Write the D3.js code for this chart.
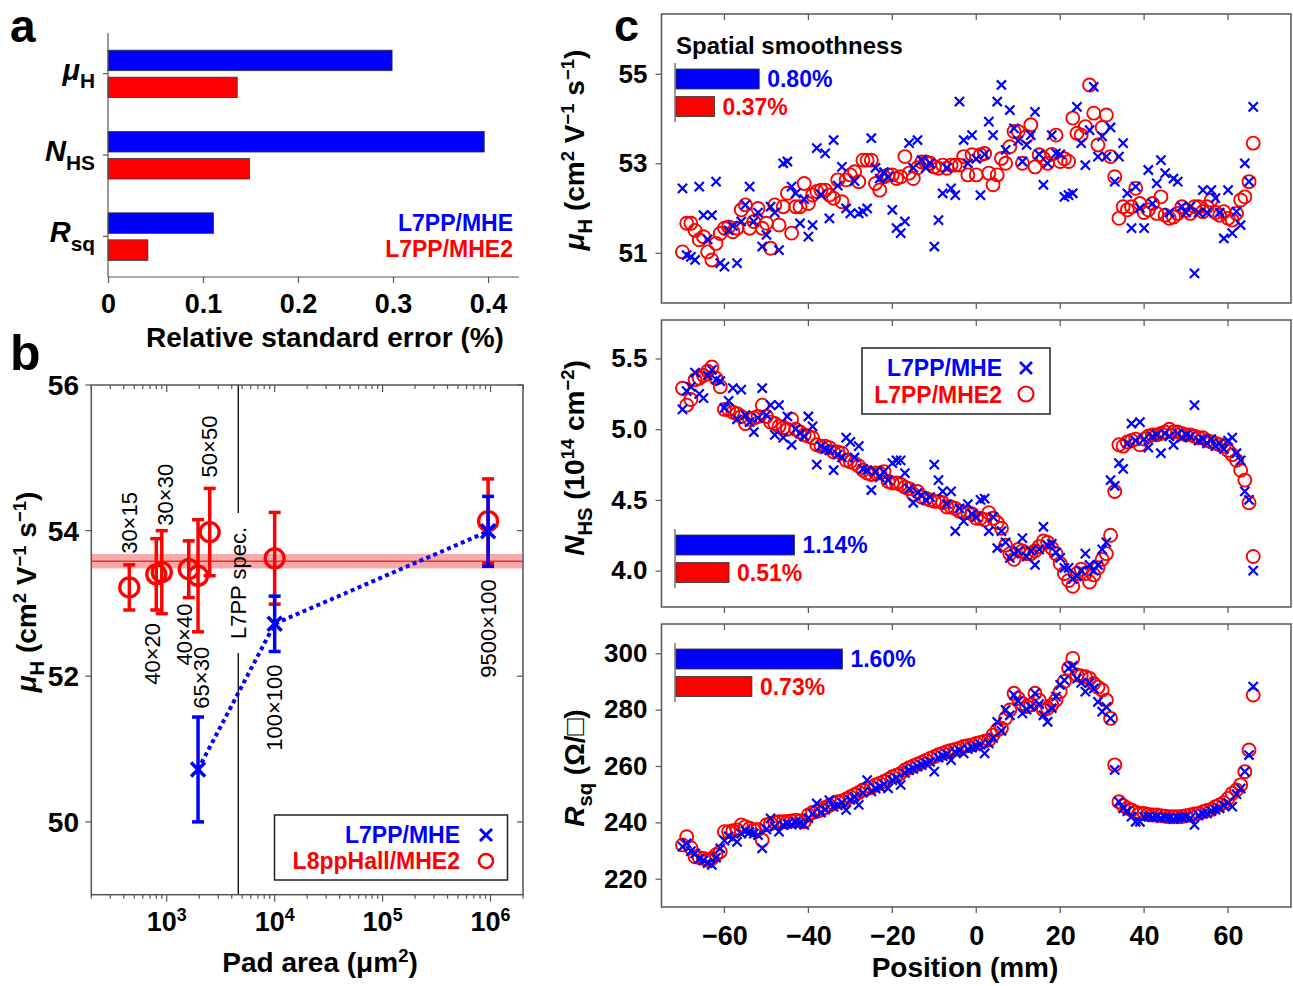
<!DOCTYPE html>
<html><head><meta charset="utf-8">
<script src="https://cdn.jsdelivr.net/npm/d3@7"></script>
<style>
body{margin:0;background:#fff}
svg{display:block}
</style>
</head><body>
<svg id="chart" width="1293" height="986"></svg>
<script>
// ================= DATA =================
const seriesNames = ["L7PP/MHE", "L7PP/MHE2"];

// panel a
const rseCategories = ["muH", "NHS", "Rsq"];
const rseMHE  = [0.299, 0.396, 0.111];
const rseMHE2 = [0.136, 0.149, 0.042];
const rseTicks = [0, 0.1, 0.2, 0.3, 0.4];

// panel b
const padSeriesNames = ["L7PP/MHE", "L8ppHall/MHE2"];
const padLabels    = ["30×15", "40×20", "30×30", "40×40", "65×30", "50×50", "100×100", "9500×100"];
const padAreaMHE2  = [450, 800, 900, 1600, 1950, 2500, 10000, 950000];
const muPadMHE2    = [53.22, 53.40, 53.43, 53.47, 53.38, 53.98, 53.62, 54.13];
const errPadMHE2   = [0.31, 0.49, 0.57, 0.39, 0.77, 0.60, 0.63, 0.58];
const padLabelSide = ["above", "below", "above", "below", "below", "above", "below", "below"];
const padAreaMHE   = [1950, 10000, 950000];
const muPadMHE     = [50.72, 52.72, 53.99];
const errPadMHE    = [0.72, 0.38, 0.48];
const specArea     = 4600;
const refBand      = [53.48, 53.58, 53.68];
const padXTicks    = [1e3, 1e4, 1e5, 1e6];
const padYTicks    = [50, 52, 54, 56];

// panel c
const positions = [
 -70,-69,-68,-67,-66,-65,-64,-63,-62,-61,
 -60,-59,-58,-57,-56,-55,-54,-53,-52,-51,
 -50,-49,-48,-47,-46,-45,-44,-43,-42,-41,
 -40,-39,-38,-37,-36,-35,-34,-33,-32,-31,
 -30,-29,-28,-27,-26,-25,-24,-23,-22,-21,
 -20,-19,-18,-17,-16,-15,-14,-13,-12,-11,
 -10,-9,-8,-7,-6,-5,-4,-3,-2,-1,
 0,1,2,3,4,5,6,7,8,9,
 10,11,12,13,14,15,16,17,18,19,
 20,21,22,23,24,25,26,27,28,29,
 30,31,32,33,34,35,36,37,38,39,
 40,41,42,43,44,45,46,47,48,49,
 50,51,52,53,54,55,56,57,58,59,
 60,61,62,63,64,65,66];

const muMHE = [
 52.44,50.95,50.91,50.84,52.48,51.84,51.30,51.84,52.59,50.77,
 50.69,51.50,51.60,50.77,51.70,52.07,52.48,51.70,51.90,51.14,
 51.40,52.03,51.90,51.06,53.00,53.04,52.48,52.33,51.66,52.20,
 51.36,51.62,53.34,52.30,53.22,51.77,53.52,52.50,52.92,51.99,
 51.88,52.60,51.88,51.92,51.99,53.56,52.90,52.66,52.80,52.70,
 51.96,51.55,51.44,51.70,53.45,52.90,53.52,53.07,52.90,53.00,
 51.14,51.73,52.33,52.90,52.44,52.29,54.38,53.52,53.00,53.63,
 53.10,52.29,53.20,53.93,53.63,54.38,54.75,53.30,54.19,53.78,
 53.50,53.04,53.41,53.63,54.15,53.20,52.52,53.00,53.63,53.22,
 53.20,52.25,52.29,52.33,54.26,53.45,52.96,53.74,54.71,53.15,
 53.60,53.15,53.80,52.59,53.15,53.45,52.33,51.55,52.48,52.00,
 51.55,52.85,52.10,52.55,53.07,52.78,51.90,52.66,52.59,52.03,
 51.90,52.03,50.54,51.90,52.40,51.90,52.40,52.22,51.90,51.32,
 52.40,51.44,51.92,51.62,53.00,52.59,54.26];
const muMHE2 = [
 51.02,51.66,51.66,51.50,51.29,51.36,51.02,50.84,51.21,51.43,
 51.55,51.58,51.47,51.55,51.96,52.07,51.55,51.70,51.99,51.55,
 51.66,51.10,52.07,51.62,52.03,52.33,51.44,52.03,52.03,52.55,
 52.10,52.29,52.37,52.40,52.40,52.29,52.22,52.63,52.14,52.63,
 52.74,52.81,52.59,53.07,53.07,53.07,52.55,52.40,52.70,52.74,
 52.74,52.66,52.70,53.15,52.78,52.66,52.90,53.03,53.03,53.00,
 52.92,52.89,52.96,52.89,52.96,52.96,52.96,53.15,52.74,53.19,
 52.74,53.19,53.22,52.78,52.52,52.74,53.11,53.00,53.37,53.71,
 53.71,53.00,53.60,53.86,52.92,53.19,53.11,53.00,53.20,53.63,
 53.04,53.10,53.04,54.01,53.67,53.63,53.82,54.75,54.12,53.41,
 53.80,54.08,53.15,52.70,51.77,52.03,51.96,52.03,52.44,52.10,
 51.90,51.96,52.10,51.88,52.25,51.84,51.77,51.80,51.88,52.03,
 51.95,51.88,52.03,52.03,51.92,52.03,52.18,51.90,51.84,51.92,
 51.77,51.73,51.88,52.18,52.25,52.59,53.45];

const nhsMHE = [
 5.14,5.27,5.30,5.40,5.25,5.22,5.38,5.42,5.35,5.34,
 5.15,5.20,5.29,5.07,5.28,5.10,5.05,4.98,5.08,5.29,
 5.10,5.17,4.96,5.17,4.94,5.09,4.89,5.00,4.97,4.95,
 5.09,5.02,4.75,4.88,4.86,4.85,4.71,4.82,4.80,4.94,
 4.91,4.80,4.88,4.72,4.71,4.57,4.70,4.66,4.70,4.64,
 4.76,4.78,4.78,4.69,4.58,4.48,4.55,4.53,4.50,4.52,
 4.75,4.64,4.56,4.47,4.56,4.28,4.44,4.35,4.47,4.40,
 4.38,4.50,4.51,4.28,4.38,4.16,4.28,4.20,4.09,4.12,
 4.14,4.23,4.10,4.14,4.04,4.15,4.31,4.18,4.19,4.13,
 4.09,4.02,4.02,3.94,3.96,4.00,4.12,4.04,4.00,4.04,
 4.15,4.20,4.64,4.60,4.76,4.72,4.90,5.04,4.92,5.05,
 4.93,4.87,4.95,4.96,4.83,4.97,4.95,4.89,4.97,4.94,
 4.96,4.95,5.17,4.92,4.93,4.90,4.93,4.88,4.90,4.86,
 4.92,4.94,4.83,4.78,4.56,4.50,4.00];
const nhsMHE2 = [
 5.29,5.17,5.21,5.35,5.36,5.38,5.41,5.44,5.36,5.30,
 5.14,5.14,5.12,5.11,5.09,5.04,5.07,5.08,5.09,5.17,
 5.09,5.05,5.04,5.02,5.01,5.00,5.07,5.00,4.98,4.96,
 4.95,4.94,4.89,4.88,4.88,4.87,4.84,4.84,4.83,4.78,
 4.77,4.76,4.74,4.71,4.69,4.68,4.69,4.69,4.70,4.63,
 4.62,4.62,4.61,4.59,4.58,4.54,4.56,4.52,4.51,4.50,
 4.49,4.49,4.48,4.45,4.45,4.44,4.42,4.41,4.41,4.40,
 4.37,4.37,4.36,4.41,4.37,4.34,4.30,4.18,4.12,4.08,
 4.15,4.14,4.12,4.12,4.14,4.17,4.21,4.20,4.16,4.12,
 4.05,3.98,3.93,3.89,3.98,4.01,3.98,3.92,3.97,4.02,
 4.08,4.12,4.25,4.56,4.89,4.88,4.91,4.92,4.93,4.89,
 4.93,4.95,4.96,4.96,4.97,4.98,5.00,4.98,4.98,4.97,
 4.96,4.96,4.95,4.94,4.94,4.92,4.91,4.90,4.89,4.88,
 4.85,4.82,4.78,4.71,4.64,4.48,4.10];

const rsqMHE = [
 231.4,232.5,229.8,229.0,227.0,226.5,225.5,224.9,227.5,230.8,
 233.5,235.0,234.3,233.1,236.0,237.0,236.5,236.0,235.5,230.8,
 237.5,241.4,238.5,236.7,239.0,239.5,239.2,240.0,239.8,239.1,
 241.5,243.0,246.7,243.5,244.5,247.9,245.5,246.0,247.0,244.4,
 248.0,249.0,246.2,250.5,255.0,251.0,252.0,252.7,253.5,252.1,
 255.0,255.8,253.3,257.5,258.5,259.0,259.8,260.3,261.0,261.5,
 258.0,263.0,263.5,264.2,262.1,265.0,265.5,264.5,266.0,266.5,
 267.0,267.5,264.5,268.0,270.0,275.7,272.5,279.9,278.0,285.2,
 283.0,278.7,280.0,281.1,285.8,282.0,278.0,275.7,280.5,284.6,
 288.8,290.5,294.7,295.5,291.0,289.5,286.4,289.5,287.5,282.8,
 279.3,281.0,276.9,258.6,247.3,245.0,244.0,242.0,240.2,240.2,
 242.0,242.0,241.8,242.0,241.5,241.8,241.5,241.2,241.5,241.8,
 242.0,241.5,239.1,242.5,243.0,243.2,244.0,244.5,245.0,246.0,
 247.0,245.6,250.0,252.0,258.0,263.9,288.2];
const rsqMHE2 = [
 232.0,234.9,231.0,227.8,227.5,227.2,226.6,227.2,228.5,229.6,
 236.7,236.7,237.0,237.3,239.1,238.5,237.9,237.3,237.5,233.7,
 239.1,239.6,239.9,240.2,240.2,240.3,240.5,240.8,240.5,240.2,
 242.6,243.5,243.9,244.4,245.3,246.0,246.7,247.3,247.6,248.2,
 249.1,249.8,250.6,251.5,252.0,252.4,253.3,253.8,254.5,255.2,
 256.2,256.7,257.4,258.6,259.4,260.0,260.6,261.3,262.0,262.7,
 263.3,264.0,264.5,265.1,265.5,265.9,266.3,266.9,267.2,267.5,
 268.0,268.4,268.8,269.2,271.0,272.8,273.4,277.0,279.9,285.8,
 284.0,282.2,281.1,281.7,285.8,283.4,279.9,280.5,281.7,283.4,
 286.4,290.0,294.7,298.2,292.3,292.0,291.7,291.1,289.3,288.0,
 287.0,283.4,276.9,260.4,247.3,246.0,245.0,244.4,243.6,243.2,
 243.2,242.8,242.6,242.6,242.4,242.2,242.0,242.0,242.0,242.1,
 242.4,242.6,243.0,243.2,243.8,244.2,244.6,245.6,246.2,247.0,
 248.5,250.3,251.5,253.3,258.0,265.7,285.2];

const smoothMHE  = [0.80, 1.14, 1.60];
const smoothMHE2 = [0.37, 0.51, 0.73];
const posTicks = [-60, -40, -20, 0, 20, 40, 60];
const muTicks  = [51, 53, 55];
const nhsTicks = [4.0, 4.5, 5.0, 5.5];
const rsqTicks = [220, 240, 260, 280, 300];

// ================= DRAWING =================
const FONT = '"Liberation Sans", Arial, Helvetica, sans-serif';
const BLUE = "#0000ff", RED = "#ff0000", AX = "#555";
const svg = d3.select("#chart").attr("font-family", FONT);

function rich(t, parts, base) {
  let shift = 0;
  parts.forEach(([txt, type]) => {
    const ts = t.append("tspan").text(txt);
    let target = 0, fs = base;
    if (type === "sub") { target = base * 0.30; fs = base * 0.72; }
    else if (type === "sup") { target = -base * 0.36; fs = base * 0.66; }
    if (type === "i") ts.attr("font-style", "italic");
    ts.attr("font-size", fs).attr("dy", target - shift);
    shift = target;
  });
}
const labelParts = {
  muH: [["μ", "i"], ["H", "sub"]],
  NHS: [["N", "i"], ["HS", "sub"]],
  Rsq: [["R", "i"], ["sq", "sub"]]
};
function cross(g, x, y, s, color, w) {
  g.append("path").attr("d", `M${x - s},${y - s}L${x + s},${y + s}M${x - s},${y + s}L${x + s},${y - s}`)
    .attr("stroke", color).attr("stroke-width", w).attr("fill", "none");
}
function styleAxis(g, fs) {
  g.selectAll("line").attr("stroke", AX).attr("stroke-width", 1.2);
  g.select(".domain").remove();
  g.selectAll("text").attr("font-size", fs).attr("font-weight", "bold")
    .attr("font-family", FONT).attr("fill", "#000");
}

// panel letters
svg.append("text").attr("x", 10).attr("y", 42).attr("font-size", 46).attr("font-weight", "bold").text("a");
svg.append("text").attr("x", 10).attr("y", 370).attr("font-size", 50).attr("font-weight", "bold").text("b");
svg.append("text").attr("x", 614).attr("y", 41).attr("font-size", 45).attr("font-weight", "bold").text("c");

// ---------- panel a ----------
{
  const xA = d3.scaleLinear().domain([0, 0.4326]).range([108, 519]);
  const yA = d3.scaleBand().domain(rseCategories).range([33, 277]);
  const yS = d3.scaleBand().domain(seriesNames).range([-23.5, 24]).paddingInner(0.24);
  const g = svg.append("g");
  const vals = [rseMHE, rseMHE2], cols = [BLUE, RED];
  seriesNames.forEach((s, si) => {
    g.selectAll(null).data(rseCategories).join("rect")
      .attr("x", xA(0))
      .attr("y", c => yA(c) + yA.bandwidth() / 2 + yS(s))
      .attr("width", (c, i) => xA(vals[si][i]) - xA(0))
      .attr("height", yS.bandwidth())
      .attr("fill", cols[si]).attr("stroke", "#333").attr("stroke-width", 0.8);
  });
  const ax = g.append("g").attr("transform", "translate(0,277)")
    .call(d3.axisBottom(xA).tickValues(rseTicks).tickSize(6).tickPadding(11)
      .tickFormat(d => d === 0 ? "0" : d3.format(".1f")(d)));
  styleAxis(ax, 27);
  g.append("line").attr("x1", 108).attr("x2", 519).attr("y1", 277).attr("y2", 277).attr("stroke", AX).attr("stroke-width", 1.2);
  const ay = g.append("g").attr("transform", "translate(108,0)")
    .call(d3.axisLeft(yA).tickSize(5).tickFormat(""));
  styleAxis(ay, 10);
  g.append("line").attr("x1", 108).attr("x2", 108).attr("y1", 33).attr("y2", 277).attr("stroke", AX).attr("stroke-width", 1.2);
  rseCategories.forEach(c => {
    const t = g.append("text").attr("x", 95).attr("y", yA(c) + yA.bandwidth() / 2 + 6)
      .attr("text-anchor", "end").attr("font-weight", "bold");
    rich(t, labelParts[c], 29);
  });
  g.append("text").attr("x", 325).attr("y", 347).attr("text-anchor", "middle")
    .attr("font-size", 28).attr("font-weight", "bold").text("Relative standard error (%)");
  g.append("text").attr("x", 513).attr("y", 231).attr("text-anchor", "end").attr("font-size", 23)
    .attr("font-weight", "bold").attr("fill", BLUE).text(seriesNames[0]);
  g.append("text").attr("x", 513).attr("y", 257).attr("text-anchor", "end").attr("font-size", 23)
    .attr("font-weight", "bold").attr("fill", RED).text(seriesNames[1]);
}

// ---------- panel b ----------
{
  const L = 91.3, R = 523, T = 385, B = 894.7;
  const xB = d3.scaleLog().domain([200, 2e6]).range([L, R]);
  const yB = d3.scaleLinear().domain([49, 56]).range([B, T]);
  const g = svg.append("g");
  g.append("rect").attr("x", L).attr("width", R - L).attr("y", yB(refBand[2]))
    .attr("height", yB(refBand[0]) - yB(refBand[2])).attr("fill", "#f8aaaa");
  g.append("line").attr("x1", L).attr("x2", R).attr("y1", yB(refBand[1])).attr("y2", yB(refBand[1]))
    .attr("stroke", "#f03030").attr("stroke-width", 1.5);
  const sx = xB(specArea);
  g.append("line").attr("x1", sx).attr("x2", sx).attr("y1", T).attr("y2", 513).attr("stroke", "#000").attr("stroke-width", 1.3);
  g.append("line").attr("x1", sx).attr("x2", sx).attr("y1", 653).attr("y2", B).attr("stroke", "#000").attr("stroke-width", 1.3);
  g.append("text").attr("transform", `translate(${sx},${583}) rotate(-90)`).attr("text-anchor", "middle")
    .attr("dy", "0.35em").attr("font-size", 22).text("L7PP spec.");
  g.append("rect").attr("x", L).attr("y", T).attr("width", R - L).attr("height", B - T)
    .attr("fill", "none").attr("stroke", AX).attr("stroke-width", 1.5);
  xB.ticks().forEach(v => {
    const major = Math.abs(Math.log10(v) - Math.round(Math.log10(v))) < 1e-9;
    const len = major ? 7 : 4, x = xB(v);
    if (x < L - 0.5 || x > R + 0.5) return;
    g.append("line").attr("x1", x).attr("x2", x).attr("y1", B).attr("y2", B + len).attr("stroke", AX).attr("stroke-width", 1.2);
    g.append("line").attr("x1", x).attr("x2", x).attr("y1", T).attr("y2", T + len).attr("stroke", AX).attr("stroke-width", 1.2);
  });
  padXTicks.forEach(v => {
    const t = g.append("text").attr("x", xB(v)).attr("y", 931).attr("text-anchor", "middle").attr("font-weight", "bold");
    rich(t, [["10", ""], [String(Math.round(Math.log10(v))), "sup"]], 27);
  });
  padYTicks.forEach(v => {
    const y = yB(v);
    g.append("line").attr("x1", L - 6).attr("x2", L).attr("y1", y).attr("y2", y).attr("stroke", AX).attr("stroke-width", 1.2);
    g.append("line").attr("x1", R - 6).attr("x2", R).attr("y1", y).attr("y2", y).attr("stroke", AX).attr("stroke-width", 1.2);
    g.append("text").attr("x", 79).attr("y", y).attr("dy", "0.36em").attr("text-anchor", "end")
      .attr("font-size", 28).attr("font-weight", "bold").text(v);
  });
  const yt = g.append("text").attr("transform", "translate(36,592) rotate(-90)").attr("text-anchor", "middle").attr("font-weight", "bold");
  rich(yt, [["μ", "i"], ["H", "sub"], [" (cm", ""], ["2", "sup"], [" V", ""], ["−1", "sup"], [" s", ""], ["−1", "sup"], [")", ""]], 28);
  const xt = g.append("text").attr("x", 320).attr("y", 972).attr("text-anchor", "middle").attr("font-weight", "bold");
  rich(xt, [["Pad area (μm", ""], ["2", "sup"], [")", ""]], 28);

  g.append("path").datum(padAreaMHE.map((a, i) => [a, muPadMHE[i]]))
    .attr("d", d3.line().x(d => xB(d[0])).y(d => yB(d[1])))
    .attr("fill", "none").attr("stroke", BLUE).attr("stroke-width", 4).attr("stroke-dasharray", "4 3.5");
  function errBar(x, lo, hi, color) {
    g.append("line").attr("x1", x).attr("x2", x).attr("y1", yB(lo)).attr("y2", yB(hi)).attr("stroke", color).attr("stroke-width", 3.5);
    [lo, hi].forEach(v => g.append("line").attr("x1", x - 6).attr("x2", x + 6).attr("y1", yB(v)).attr("y2", yB(v)).attr("stroke", color).attr("stroke-width", 3.5));
  }
  padAreaMHE2.forEach((a, i) => errBar(xB(a), muPadMHE2[i] - errPadMHE2[i], muPadMHE2[i] + errPadMHE2[i], RED));
  padAreaMHE2.forEach((a, i) => g.append("circle").attr("cx", xB(a)).attr("cy", yB(muPadMHE2[i])).attr("r", 9.5)
    .attr("fill", "none").attr("stroke", RED).attr("stroke-width", 3.3));
  padAreaMHE.forEach((a, i) => errBar(xB(a), muPadMHE[i] - errPadMHE[i], muPadMHE[i] + errPadMHE[i], BLUE));
  padAreaMHE.forEach((a, i) => cross(g, xB(a), yB(muPadMHE[i]), 7, BLUE, 3.5));
  // size labels (small layout nudges keep crowded labels apart, as in the original figure)
  const labelNudge = { "40×20": [-4, 0], "30×30": [3.5, 6], "40×40": [-4, -7], "65×30": [3.5, 2] };
  padAreaMHE2.forEach((a, i) => {
    const lows = [muPadMHE2[i] - errPadMHE2[i]], highs = [muPadMHE2[i] + errPadMHE2[i]];
    padAreaMHE.forEach((b, j) => {
      if (b === a && Math.abs(muPadMHE[j] - muPadMHE2[i]) < 1.5) {
        lows.push(muPadMHE[j] - errPadMHE[j]); highs.push(muPadMHE[j] + errPadMHE[j]);
      }
    });
    const nd = labelNudge[padLabels[i]] || [0, 0];
    const x = xB(a) + nd[0];
    if (padLabelSide[i] === "above") {
      g.append("text").attr("transform", `translate(${x},${yB(d3.max(highs)) - 11 + nd[1]}) rotate(-90)`)
        .attr("text-anchor", "start").attr("dy", "0.35em").attr("font-size", 22).text(padLabels[i]);
    } else {
      g.append("text").attr("transform", `translate(${x},${yB(d3.min(lows)) + 13 + nd[1]}) rotate(-90)`)
        .attr("text-anchor", "end").attr("dy", "0.35em").attr("font-size", 22).text(padLabels[i]);
    }
  });
  g.append("rect").attr("x", 274.5).attr("y", 815).attr("width", 233).attr("height", 65)
    .attr("fill", "#fff").attr("stroke", "#222").attr("stroke-width", 1.5);
  g.append("text").attr("x", 460).attr("y", 843).attr("text-anchor", "end").attr("font-size", 23)
    .attr("font-weight", "bold").attr("fill", BLUE).text(padSeriesNames[0]);
  g.append("text").attr("x", 460).attr("y", 869).attr("text-anchor", "end").attr("font-size", 23)
    .attr("font-weight", "bold").attr("fill", RED).text(padSeriesNames[1]);
  cross(g, 486, 835, 6, BLUE, 3);
  g.append("circle").attr("cx", 486).attr("cy", 861).attr("r", 7).attr("fill", "none").attr("stroke", RED).attr("stroke-width", 2.5);
}

// ---------- panel c ----------
{
  const L = 661.5, R = 1291;
  const xC = d3.scaleLinear().domain([-75, 75]).range([L, R]);
  const xBar = d3.scaleLinear().domain([0, 1]).range([676, 780]);
  const panels = [
    { top: 14, bottom: 303, domain: [49.878, 56.336], ticks: muTicks, fmt: d3.format("d"),
      blue: muMHE, red: muMHE2, barTop: 55, titleY: 150,
      title: [["μ", "i"], ["H", "sub"], [" (cm", ""], ["2", "sup"], [" V", ""], ["−1", "sup"], [" s", ""], ["−1", "sup"], [")", ""]] },
    { top: 320, bottom: 607, domain: [3.743, 5.772], ticks: nhsTicks, fmt: d3.format(".1f"),
      blue: nhsMHE, red: nhsMHE2, barTop: 215, titleY: 458,
      title: [["N", "i"], ["HS", "sub"], [" (10", ""], ["14", "sup"], [" cm", ""], ["−2", "sup"], [")", ""]] },
    { top: 624, bottom: 907, domain: [209.96, 310.4], ticks: rsqTicks, fmt: d3.format("d"),
      blue: rsqMHE, red: rsqMHE2, barTop: 25, titleY: 768,
      title: [["R", "i"], ["sq", "sub"], [" (Ω/□)", ""]] }
  ];
  panels.forEach((p, pi) => {
    const g = svg.append("g");
    const y = d3.scaleLinear().domain(p.domain).range([p.bottom, p.top]);
    posTicks.forEach(v => {
      const x = xC(v);
      g.append("line").attr("x1", x).attr("x2", x).attr("y1", p.bottom).attr("y2", p.bottom + 6).attr("stroke", AX).attr("stroke-width", 1.2);
      g.append("line").attr("x1", x).attr("x2", x).attr("y1", p.top).attr("y2", p.top + 6).attr("stroke", AX).attr("stroke-width", 1.2);
    });
    const ay = g.append("g").attr("transform", `translate(${L},0)`)
      .call(d3.axisLeft(y).tickValues(p.ticks).tickFormat(p.fmt).tickSize(6).tickPadding(8));
    styleAxis(ay, 26);
    g.append("rect").attr("x", L).attr("y", p.top).attr("width", R - L).attr("height", p.bottom - p.top)
      .attr("fill", "none").attr("stroke", AX).attr("stroke-width", 1.5);
    if (pi === 2) {
      const ax = g.append("g").attr("transform", `translate(0,${p.bottom})`)
        .call(d3.axisBottom(xC).tickValues(posTicks).tickSize(0).tickPadding(19));
      styleAxis(ax, 27);
      g.append("text").attr("x", 965).attr("y", 977).attr("text-anchor", "middle")
        .attr("font-size", 28).attr("font-weight", "bold").text("Position (mm)");
    }
    const tt = g.append("text").attr("transform", `translate(584,${p.titleY}) rotate(-90)`)
      .attr("text-anchor", "middle").attr("font-weight", "bold");
    rich(tt, p.title, 28);
    positions.forEach((pos, i) => g.append("circle").attr("cx", xC(pos)).attr("cy", y(p.red[i])).attr("r", 6.5)
      .attr("fill", "none").attr("stroke", RED).attr("stroke-width", 1.9));
    positions.forEach((pos, i) => cross(g, xC(pos), y(p.blue[i]), 4.6, BLUE, 2.2));
    const by = p.top + p.barTop;
    g.append("line").attr("x1", 675).attr("x2", 675).attr("y1", by - 6).attr("y2", by + 53).attr("stroke", AX).attr("stroke-width", 1.2);
    g.append("rect").attr("x", xBar(0)).attr("y", by).attr("width", xBar(smoothMHE[pi]) - xBar(0)).attr("height", 20)
      .attr("fill", BLUE).attr("stroke", "#333").attr("stroke-width", 0.8);
    g.append("rect").attr("x", xBar(0)).attr("y", by + 27.5).attr("width", xBar(smoothMHE2[pi]) - xBar(0)).attr("height", 20)
      .attr("fill", RED).attr("stroke", "#333").attr("stroke-width", 0.8);
    g.append("text").attr("x", xBar(smoothMHE[pi]) + 8).attr("y", by + 18).attr("font-size", 23).attr("font-weight", "bold")
      .attr("fill", BLUE).text(d3.format(".2f")(smoothMHE[pi]) + "%");
    g.append("text").attr("x", xBar(smoothMHE2[pi]) + 8).attr("y", by + 45.5).attr("font-size", 23).attr("font-weight", "bold")
      .attr("fill", RED).text(d3.format(".2f")(smoothMHE2[pi]) + "%");
    if (pi === 0) {
      g.append("text").attr("x", 676).attr("y", 54).attr("font-size", 24).attr("font-weight", "bold").text("Spatial smoothness");
    }
    if (pi === 1) {
      g.append("rect").attr("x", 862).attr("y", 348).attr("width", 188).attr("height", 66)
        .attr("fill", "#fff").attr("stroke", "#222").attr("stroke-width", 1.5);
      g.append("text").attr("x", 1002).attr("y", 376).attr("text-anchor", "end").attr("font-size", 23)
        .attr("font-weight", "bold").attr("fill", BLUE).text(seriesNames[0]);
      g.append("text").attr("x", 1002).attr("y", 403).attr("text-anchor", "end").attr("font-size", 23)
        .attr("font-weight", "bold").attr("fill", RED).text(seriesNames[1]);
      cross(g, 1026, 368, 6, BLUE, 2.6);
      g.append("circle").attr("cx", 1026).attr("cy", 394).attr("r", 7.5).attr("fill", "none").attr("stroke", RED).attr("stroke-width", 2.2);
    }
  });
}
</script>
</body></html>
